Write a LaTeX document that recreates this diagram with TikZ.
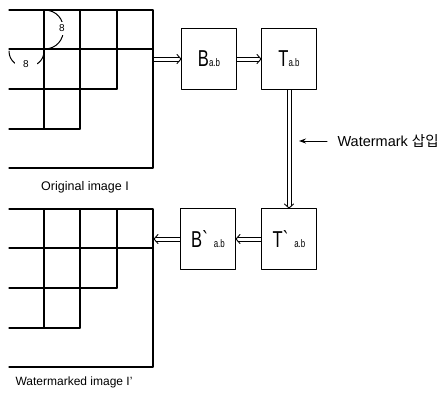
\documentclass[tikz,border=0pt]{standalone}
\usepackage{fontspec}
\setmainfont{Liberation Sans}
\newfontfamily\kor{Noto Sans CJK KR}
\newfontfamily\blockfont[FakeStretch=0.72]{Liberation Sans}
\usetikzlibrary{arrows.meta}

\tikzset{
  block/.style={
    draw,
    line width=1pt,
    minimum width=55pt,
    minimum height=61pt,
    inner sep=0pt,
    font=\blockfont\fontsize{23}{23}\selectfont
  },
  dblline/.style={line width=0.9pt},
  gridline/.style={line width=1.2pt},
  dimlabel/.style={
    fill=white,
    inner sep=1.5pt,
    minimum height=13pt,
    font=\fontsize{10}{10}\selectfont
  },
  caption/.style={font=\fontsize{12.5}{12.5}\selectfont}
}

\newcommand\ab{{\fontsize{11}{11}\selectfont a.b}}

\begin{document}
\begin{tikzpicture}[
  x=1pt,
  y=-1pt,
  line cap=round,
  line join=round
]
  \useasboundingbox (0,0) rectangle (447,392);

  % 원 영상
  \draw[gridline]
    (9,10) -- (153,10) -- (153,168) -- (9,168);

  \draw[gridline] (9,49) -- (153,49);
  \draw[gridline] (9,89) -- (117,89);
  \draw[gridline] (9,129) -- (80,129);

  \draw[gridline] (44,10) -- (44,129);
  \draw[gridline] (80,10) -- (80,129);
  \draw[gridline] (117,10) -- (117,89);

  % 블록 크기 8
  \draw[line width=1pt]
    (44,10) .. controls (70,10) and (70,49) .. (44,49);
  \node[dimlabel] (sizey) at (62,28) {8};

  \draw[line width=1pt]
    (9,51) .. controls (9,72) and (44,72) .. (44,51);
  \node[dimlabel, minimum width=22pt] (sizex) at (26,64) {8};

  \coordinate (origedge) at (154,59);
  \node[caption] (origlabel) at (85,187) {Original image I};

  % 워터마크 영상
  \begin{scope}[yshift=-199pt]
    \draw[gridline]
      (9,10) -- (153,10) -- (153,168) -- (9,168);

    \draw[gridline] (9,49) -- (153,49);
    \draw[gridline] (9,89) -- (117,89);
    \draw[gridline] (9,129) -- (80,129);

    \draw[gridline] (44,10) -- (44,129);
    \draw[gridline] (80,10) -- (80,129);
    \draw[gridline] (117,10) -- (117,89);

    \coordinate (markedge) at (154,40);
    \node[caption, font=\fontsize{12}{12}\selectfont]
      (marklabel) at (74,183) {Watermarked image I'};
  \end{scope}

  % 블록
  \node[block] (B) at (209,59) {B\ab};
  \node[block] (T) at (289,59) {T\ab};
  \node[block] (Bp) at (208,239) {B\textasciigrave\,\ab};
  \node[block] (Tp) at (289,239) {T\textasciigrave\,\ab};

  % 이중 화살표: I -> B
  \draw[dblline]
    ([yshift=2pt]origedge) -- ([xshift=-2pt,yshift=2pt]B.west);
  \draw[dblline]
    ([yshift=-2pt]origedge) -- ([xshift=-2pt,yshift=-2pt]B.west);
  \draw[dblline]
    ([xshift=-4pt,yshift=4.5pt]B.west) -- (B.west)
    -- ([xshift=-4pt,yshift=-4.5pt]B.west);

  % B -> T
  \draw[dblline]
    ([yshift=2pt]B.east) -- ([xshift=-2pt,yshift=2pt]T.west);
  \draw[dblline]
    ([yshift=-2pt]B.east) -- ([xshift=-2pt,yshift=-2pt]T.west);
  \draw[dblline]
    ([xshift=-4pt,yshift=4.5pt]T.west) -- (T.west)
    -- ([xshift=-4pt,yshift=-4.5pt]T.west);

  % T -> T'
  \draw[dblline]
    ([xshift=-2pt]T.south) -- ([xshift=-2pt,yshift=2pt]Tp.north);
  \draw[dblline]
    ([xshift=2pt]T.south) -- ([xshift=2pt,yshift=2pt]Tp.north);
  \draw[dblline]
    ([xshift=-4.5pt,yshift=4pt]Tp.north) -- (Tp.north)
    -- ([xshift=4.5pt,yshift=4pt]Tp.north);

  % T' -> B'
  \draw[dblline]
    ([yshift=2pt]Tp.west) -- ([xshift=2pt,yshift=2pt]Bp.east);
  \draw[dblline]
    ([yshift=-2pt]Tp.west) -- ([xshift=2pt,yshift=-2pt]Bp.east);
  \draw[dblline]
    ([xshift=4pt,yshift=4.5pt]Bp.east) -- (Bp.east)
    -- ([xshift=4pt,yshift=-4.5pt]Bp.east);

  % B' -> I'
  \draw[dblline]
    ([yshift=2pt]Bp.west) -- ([xshift=2pt,yshift=2pt]markedge);
  \draw[dblline]
    ([yshift=-2pt]Bp.west) -- ([xshift=2pt,yshift=-2pt]markedge);
  \draw[dblline]
    ([xshift=4pt,yshift=4.5pt]markedge) -- (markedge)
    -- ([xshift=4pt,yshift=-4.5pt]markedge);

  % 워터마크 삽입
  \coordinate (marktip) at (299,141);
  \node[anchor=west, font=\fontsize{14.5}{14.5}\selectfont]
    (marktext) at (334,141) {Watermark {\kor 삽입}};
  \draw[line width=1pt, shorten <=7pt, -{Stealth[length=7pt,width=5pt]}]
    (marktext.west) -- (marktip);
\end{tikzpicture}
\end{document}
